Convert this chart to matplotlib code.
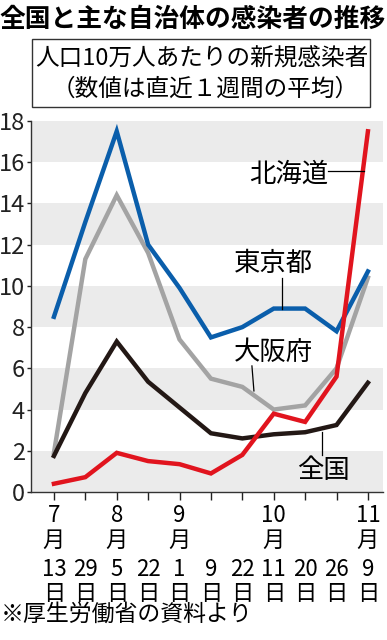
import matplotlib
matplotlib.use("Agg")
import matplotlib.pyplot as plt
from matplotlib.patches import Rectangle
from matplotlib.transforms import blended_transform_factory

plt.rcParams['font.family'] = ['Noto Sans CJK JP', 'DejaVu Sans']

months = ["7", "", "8", "", "9", "", "", "10", "", "", "11"]
days = ["13", "29", "5", "22", "1", "9", "22", "11", "20", "26", "9"]
tokyo = [8.5, 13.1, 17.5, 12.0, 9.9, 7.5, 8.0, 8.9, 8.9, 7.8, 10.7]
osaka = [1.9, 11.3, 14.4, 11.6, 7.4, 5.5, 5.1, 4.0, 4.2, 6.0, 10.4]
national = [1.75, 4.8, 7.3, 5.35, 4.1, 2.85, 2.6, 2.8, 2.9, 3.25, 5.3]
hokkaido = [0.4, 0.72, 1.9, 1.5, 1.35, 0.9, 1.8, 3.8, 3.4, 5.6, 17.5]
yticks = [0, 2, 4, 6, 8, 10, 12, 14, 16, 18]

W, H = 387, 640
fig = plt.figure(figsize=(W / 100, H / 100), dpi=100)

def fx(px):
    return px / W

def fy(py):
    return 1 - py / H

ax = fig.add_axes([fx(31), fy(492), fx(383) - fx(31), fy(121) - fy(492)])
x = list(range(len(days)))
ax.set_xlim(-0.73, 10.48)
ax.set_ylim(0, 18)

# shaded bands
for lo in [0, 4, 8, 12, 16]:
    ax.axhspan(lo, lo + 2, color='#ebebeb', lw=0, zorder=0)

lw = 3.2
ax.plot(x, osaka, color='#a3a3a3', lw=lw, zorder=3, solid_joinstyle='miter')
ax.plot(x, tokyo, color='#0a5eab', lw=lw, zorder=4, solid_joinstyle='miter')
ax.plot(x, national, color='#231815', lw=lw, zorder=5, solid_joinstyle='miter')
ax.plot(x, hokkaido, color='#e1141e', lw=lw, zorder=6, solid_joinstyle='miter')

for s in ['top', 'right']:
    ax.spines[s].set_visible(False)
for s in ['left', 'bottom']:
    ax.spines[s].set_linewidth(1.0)
    ax.spines[s].set_color('#333333')

ax.set_yticks(yticks)
ax.set_yticklabels([str(v) for v in yticks], fontsize=17)
ax.tick_params(axis='y', length=3, width=1, pad=1.5, colors='#222222')
ax.set_xticks(x)
ax.set_xticklabels([])
ax.tick_params(axis='x', length=6, width=1, direction='out', colors='#222222')

trans = blended_transform_factory(ax.transData, fig.transFigure)
xfs = 16
for i in x:
    if months[i]:
        ax.text(i, fy(515), months[i], transform=trans, ha='center', va='center', fontsize=xfs)
        ax.text(i, fy(540), "月", transform=trans, ha='center', va='center', fontsize=xfs)
    ax.text(i, fy(570), days[i], transform=trans, ha='center', va='center', fontsize=xfs)
    ax.text(i, fy(593), "日", transform=trans, ha='center', va='center', fontsize=xfs)

def dx(px):
    return (px - 54) / 31.4

def dy(py):
    return (492 - py) / 20.6

# series labels and leader lines
lab = dict(fontsize=19, ha='center', va='center', zorder=8)
ax.text(dx(289), dy(174), "北海道", **lab)
ax.plot([dx(328), dx(364)], [dy(171), dy(171)], color='black', lw=0.9, zorder=7)
ax.text(dx(274), dy(263), "東京都", **lab)
ax.plot([dx(282), dx(282)], [dy(278), dy(309)], color='black', lw=0.9, zorder=7)
ax.text(dx(274), dy(353), "大阪府", **lab)
ax.plot([dx(252), dx(254)], [dy(366), dy(391)], color='black', lw=0.9, zorder=7)
ax.text(dx(323), dy(471), "全国", **lab)
ax.plot([dx(322), dx(322)], [dy(455), dy(432)], color='black', lw=0.9, zorder=7)

# title
fig.text(fx(193), fy(19), "全国と主な自治体の感染者の推移", fontsize=18.5, fontweight='bold',
         ha='center', va='center')
# subtitle box
fig.patches.append(Rectangle((fx(32), fy(107)), fx(370) - fx(32), fy(39) - fy(107),
                             transform=fig.transFigure, fill=False, edgecolor='#333333', lw=1.0))
fig.text(fx(202), fy(59), "人口10万人あたりの新規感染者", fontsize=17, ha='center', va='center')
fig.text(fx(205), fy(89), "（数値は直近１週間の平均）", fontsize=17, ha='center', va='center')

fig.text(fx(1), fy(614), "※厚生労働省の資料より", fontsize=16.5, ha='left', va='center')

fig.savefig("out.png", dpi=100)
